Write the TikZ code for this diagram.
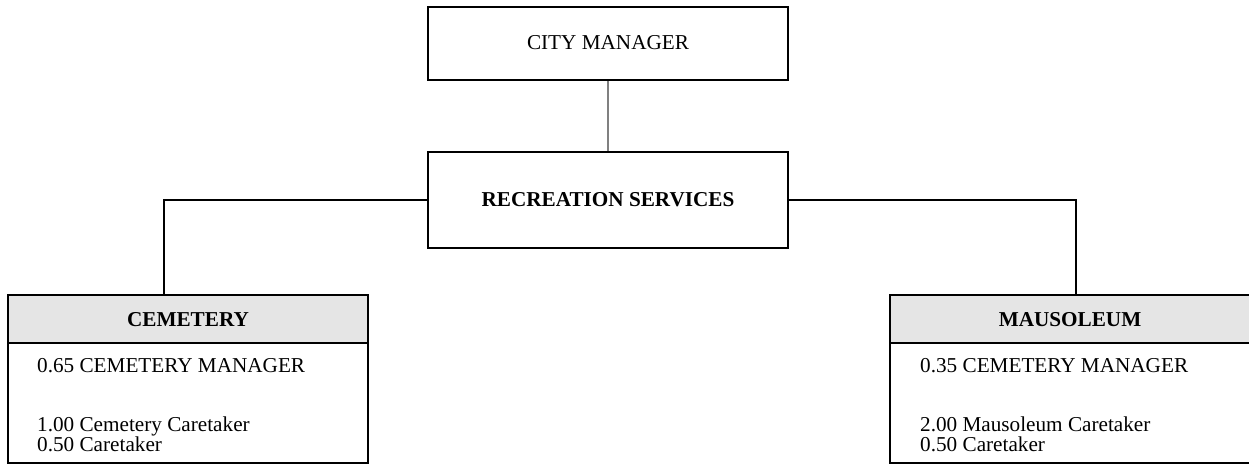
\documentclass[tikz,border=0pt]{standalone}
\usepackage{fontspec}
\setmainfont{Liberation Serif}
\definecolor{hdrgray}{HTML}{E5E5E5}
\definecolor{linkgray}{HTML}{808080}
\begin{document}
\begin{tikzpicture}[x=1pt,y=-1pt,
  every node/.style={font=\fontsize{21.2pt}{24pt}\selectfont, inner sep=0pt},
  box/.style={draw=black, line width=2.5pt, rectangle, minimum width=360pt},
  hdr/.style={box, fill=hdrgray, minimum height=48pt, font=\fontsize{21.2pt}{24pt}\selectfont\bfseries},
  bodybox/.style={box, minimum height=120pt},
  link/.style={draw=black, line width=2pt},
  txt/.style={anchor=base west}
]
\useasboundingbox (0,0) rectangle (1249,465);
% top boxes
\node[box, minimum height=73pt] (cm) at (608,43.5) {};
\node[anchor=base] (cmt) at (608,50) {CITY MANAGER};
\node[box, minimum height=96pt] (rs) at (608,200) {};
\node[anchor=base, font=\fontsize{21.2pt}{24pt}\selectfont\bfseries] (rst) at (608,207) {RECREATION SERVICES};
% left box
\node[bodybox] (cemb) at (188,403) {};
\node[hdr] (cemh) at (188,319) {};
\node[anchor=base, font=\fontsize{21.2pt}{24pt}\selectfont\bfseries] (cemt) at (188,326.5) {CEMETERY};
\node[txt] (c1) at (37,372.5) {0.65 CEMETERY MANAGER};
\node[txt] (c2) at (37,431.5) {1.00 Cemetery Caretaker};
\node[txt] (c3) at (37,451) {0.50 Caretaker};
% right box
\node[bodybox] (mb) at (1070,403) {};
\node[hdr] (mh) at (1070,319) {};
\node[anchor=base, font=\fontsize{21.2pt}{24pt}\selectfont\bfseries] (mt) at (1070,326.5) {MAUSOLEUM};
\node[txt] (m1) at (920,372.5) {0.35 CEMETERY MANAGER};
\node[txt] (m2) at (920,431.5) {2.00 Mausoleum Caretaker};
\node[txt] (m3) at (920,451) {0.50 Caretaker};
% connectors
\draw[draw=linkgray, line width=2pt] (cm.south) -- (rs.north);
\draw[link] (rs.west) -| ([xshift=-24pt]cemh.north);
\draw[link] (rs.east) -| ([xshift=6pt]mh.north);
\end{tikzpicture}
\end{document}
